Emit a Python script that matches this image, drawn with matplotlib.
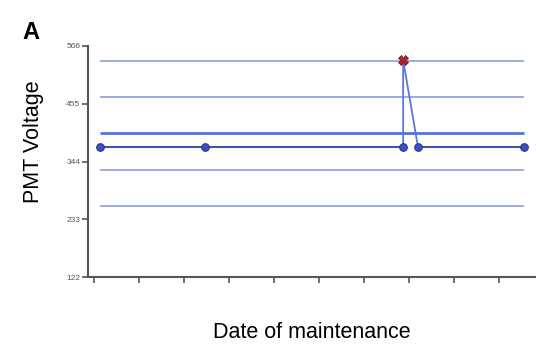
from matplotlib import pyplot as plt

plt.rcParams['font.family'] = ['Liberation Sans', 'DejaVu Sans']

# maintenance runs (x in tick units), PMT voltage readings
run_x = [0.13, 2.47, 6.87, 7.2, 9.56]
run_v = [372, 372, 372, 372, 372]
# out-of-range reading (same day as the 3rd run)
flag_x = [6.87]
flag_v = [539]
# control limits: mean and +/-1, +/-2 SD
mean_v = 398
limit_v = [538, 468, 328, 258]

yticks = [122, 233, 344, 455, 566]

fig = plt.figure(figsize=(5.38, 3.53), dpi=100)
ax = fig.add_axes([88 / 538, 1 - 277 / 353, (535 - 88) / 538, (277 - 46) / 353])

x0, x1 = run_x[0], run_x[-1]
ax.hlines(limit_v, x0, x1, color='#8496da', linewidth=1.1, zorder=1)
ax.hlines(mean_v, x0, x1, color='#5272e0', linewidth=2.0, zorder=1)

# series path: runs with the flagged reading between 3rd and 4th run
path_x = run_x[:3] + flag_x + run_x[3:]
path_v = run_v[:3] + flag_v + run_v[3:]
ax.plot(path_x[:3], path_v[:3], color='#3f58a8', linewidth=1.5, zorder=2)
ax.plot(path_x[2:5], path_v[2:5], color='#5a7ad8', linewidth=1.3, zorder=2)
ax.plot(path_x[4:], path_v[4:], color='#3f58a8', linewidth=1.5, zorder=2)
ax.plot(run_x, run_v, linestyle='none', marker='o', markersize=5.5,
        markerfacecolor='#3552c8', markeredgecolor='#1d2d7a', markeredgewidth=0.7, zorder=3)
ax.plot(flag_x, flag_v, linestyle='none', marker='X', markersize=6.5,
        markerfacecolor='#b52335', markeredgecolor='#7a1020', markeredgewidth=0.6, zorder=4)

ax.set_xlim(-0.133, 9.8)
ax.set_ylim(122, 566)
ax.set_yticks(yticks)
ax.set_yticklabels([str(v) for v in yticks], fontsize=6, color='#555555')
ax.set_xticks(range(10))
ax.set_xticklabels([])
ax.tick_params(axis='both', direction='out', length=4, width=1.2, color='#555555', pad=1.5)

for s in ['top', 'right']:
    ax.spines[s].set_visible(False)
for s in ['left', 'bottom']:
    ax.spines[s].set_color('#555555')
    ax.spines[s].set_linewidth(1.5)

fig.text(33 / 538, 1 - 142 / 353, 'PMT Voltage', rotation=90, fontsize=15.5,
         ha='center', va='center')
fig.text(312 / 538, 1 - 332 / 353, 'Date of maintenance', fontsize=15.5,
         ha='center', va='center')
fig.text(22 / 538, 1 - 39 / 353, 'A', fontsize=17, fontweight='bold',
         ha='left', va='baseline')

plt.savefig('out.png', dpi=100)
